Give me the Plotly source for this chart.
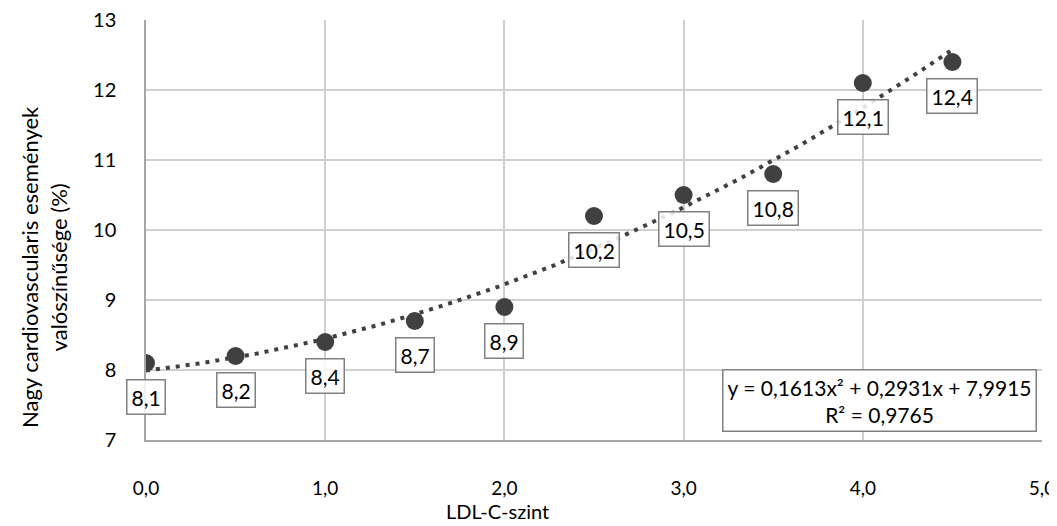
import numpy as np
import plotly.graph_objects as go

ldl = [0.0, 0.5, 1.0, 1.5, 2.0, 2.5, 3.0, 3.5, 4.0, 4.5]
risk = [8.1, 8.2, 8.4, 8.7, 8.9, 10.2, 10.5, 10.8, 12.1, 12.4]
labels = ["8,1", "8,2", "8,4", "8,7", "8,9", "10,2", "10,5", "10,8", "12,1", "12,4"]
trend_coef = [0.1613, 0.2931, 7.9915]  # a x^2 + b x + c (from chart)
x_ticks = [0, 1, 2, 3, 4, 5]
x_ticktext = ["0,0", "1,0", "2,0", "3,0", "4,0", "5,0"]
y_ticks = [7, 8, 9, 10, 11, 12, 13]

FONT = "Lato, Open Sans, DejaVu Sans, sans-serif"
DARK = "#404040"

# page body has a default 8px margin, so the figure is drawn 8px in/down
L, T, PW, PH = 138, 12, 896, 420
W, H = 1049, 518

xt = np.linspace(min(ldl), max(ldl), 200)
yt = np.polyval(trend_coef, xt)

fig = go.Figure()
fig.add_trace(go.Scatter(x=xt, y=yt, mode="lines",
                         line=dict(color=DARK, width=4, dash="4px,6px"),
                         hoverinfo="skip", showlegend=False))
fig.add_trace(go.Scatter(x=ldl, y=risk, mode="markers",
                         marker=dict(color=DARK, size=18),
                         showlegend=False))

for xv, yv, lab in zip(ldl, risk, labels):
    fig.add_annotation(x=xv, y=yv, text=lab, showarrow=False, yshift=-34,
                       font=dict(family=FONT, size=21, color="#000"),
                       bgcolor="rgba(255,255,255,0.85)", bordercolor="#7f7f7f",
                       borderwidth=1.5, borderpad=4)

fig.add_annotation(xref="paper", yref="paper", x=0.994, y=0.019,
                   xanchor="right", yanchor="bottom", showarrow=False,
                   text="y = 0,1613x² + 0,2931x + 7,9915<br>R² = 0,9765",
                   align="center",
                   font=dict(family=FONT, size=21, color="#000"),
                   bgcolor="white", bordercolor="#7f7f7f", borderwidth=1.5,
                   borderpad=4)

fig.add_annotation(xref="paper", yref="paper", x=(497 - 146) / PW, y=-(511 - 440) / PH,
                   xanchor="center", yanchor="middle", showarrow=False,
                   text="LDL-C-szint", font=dict(family=FONT, size=20, color="#000"))
fig.add_annotation(xref="paper", yref="paper", x=(44 - 146) / PW, y=(440 - 267) / PH,
                   xanchor="center", yanchor="middle", showarrow=False, textangle=-90,
                   text="Nagy cardiovascularis események<br>valószínűsége (%)",
                   font=dict(family=FONT, size=22, color="#000"))

fig.update_layout(
    width=W, height=H,
    margin=dict(l=L, r=W - L - PW, t=T, b=H - T - PH, autoexpand=False),
    paper_bgcolor="white", plot_bgcolor="white",
    font=dict(family=FONT, size=21, color="#000"),
    xaxis=dict(range=[0, 5], tickvals=x_ticks, ticktext=x_ticktext,
               showgrid=True, gridcolor="#cfcfcf", gridwidth=1.5,
               showline=True, linecolor="#a6a6a6", linewidth=1.5,
               zeroline=False, ticks="", ticklabelstandoff=30,
               ticklabeloverflow="allow",
               tickfont=dict(family=FONT, size=19)),
    yaxis=dict(range=[7, 13], tickvals=y_ticks,
               showgrid=True, gridcolor="#cfcfcf", gridwidth=1.5,
               showline=True, linecolor="#a6a6a6", linewidth=1.5,
               zeroline=False, ticks="", ticklabelstandoff=24,
               ticklabeloverflow="allow",
               tickfont=dict(family=FONT, size=20)),
)

fig.write_html("out.html")
